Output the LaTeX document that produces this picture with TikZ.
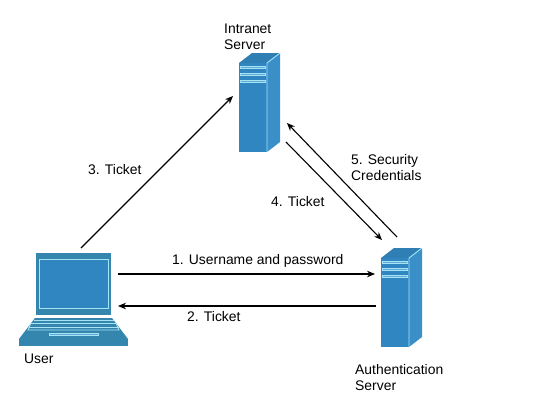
\documentclass[tikz,border=0pt]{standalone}
\usepackage{fontspec}
\setmainfont{Liberation Sans}
\usepackage{tikz}
\usetikzlibrary{arrows.meta}
\definecolor{frontblue}{HTML}{2F86C1}
\definecolor{sideblue}{HTML}{3A8FC8}
\definecolor{topblue}{HTML}{2F7FB5}
\definecolor{lidblue}{HTML}{3586AE}
\definecolor{edgeblue}{HTML}{A5E3F5}
\tikzset{
  devbox/.style={inner sep=0pt,outer sep=0pt},                % invisible device extent
  lbl/.style={inner sep=0pt,align=left,font=\fontsize{13.9}{16}\selectfont},
  flow/.style={-{Stealth[length=2.8mm,width=2.3mm]},black,line width=1.1pt},
  trim/.style={edgeblue,line width=0.9pt},
  pics/towerbox/.style={code={
    % origin is the top left corner of the front face
    \fill[topblue] (0,0) -- (13,-10) -- (41,-10) -- (28,0) -- cycle;
    \fill[sideblue] (28,0) -- (41,-10) -- (41,79) -- (28,89) -- cycle;
    \fill[frontblue] (0,0) rectangle (28,89);
    \draw[trim] (28,0) -- (28,89) (28,0) -- (41,-10);
    \foreach \yy in {3,10,17} \draw[trim,fill=frontblue!60!edgeblue] (1.5,\yy) rectangle (26,\yy+2);
  }},
}
\begin{document}
\begin{tikzpicture}[x=1pt,y=-1pt]
  \useasboundingbox (0,0) rectangle (560,407);
  \node[devbox,minimum width=109pt,minimum height=93pt] (user) at (73.5,299.5) {};
  \node[devbox,minimum width=41pt,minimum height=98pt] (intranet) at (259.5,103) {};
  \node[devbox,minimum width=41pt,minimum height=99pt] (auth) at (401.5,297.5) {};
  \pic at (239,63) {towerbox};
  \pic at (381,258) {towerbox};
  % laptop
  \fill[lidblue] (36,253) rectangle (111,315);
  \fill[frontblue,draw=edgeblue,line width=0.9pt] (39,259) rectangle (108,308);
  \fill[lidblue] (35,318) -- (112,318) -- (128,339) -- (19,339) -- cycle;
  \fill[lidblue] (19,339) rectangle (128,346);
  \foreach \yy/\xa/\xb in {320/33.5/113.5,323/31/116,327/28.5/118.5} \draw[trim] (\xa,\yy) -- (\xb,\yy);
  \draw[trim] (31,323) -- (28,330) -- (119,330) -- (116,323);
  \draw[trim,fill=frontblue!60!edgeblue] (49,333) rectangle (98,335);
  % connectors
  \draw[flow] ([shift={(7.5,-5)}]user.north) -- ([shift={(-6,-7)}]intranet.west);
  \draw[flow] ([shift={(6,-10)}]intranet.south east) -- ([shift={(1,-8)}]auth.north west);
  \draw[flow] ([shift={(16,-11)}]auth.north west) -- ([shift={(7,20)}]intranet.east);
  \draw[flow] ([shift={(-10,-25.5)}]user.east) -- ([shift={(-6,-23.5)}]auth.west);
  \draw[flow] ([shift={(-5,8.5)}]auth.west) -- ([shift={(-10,6.5)}]user.east);
  % labels
  \node[lbl,anchor=west] (lintranet) at (224,37) {Intranet\\Server};
  \node[lbl,anchor=west] (lthree) at (88,170) {3. Ticket};
  \node[lbl,anchor=west] (lfive) at (351,168) {5. Security\\Credentials};
  \node[lbl,anchor=west] (lfour) at (271,202) {4. Ticket};
  \node[lbl,anchor=west] (lone) at (172,260.5) {1. Username and password};
  \node[lbl,anchor=west] (ltwo) at (187,317) {2. Ticket};
  \node[lbl,anchor=west] (luser) at (24,359) {User};
  \node[lbl,anchor=west] (lauth) at (355,378) {Authentication\\Server};
\end{tikzpicture}
\end{document}
